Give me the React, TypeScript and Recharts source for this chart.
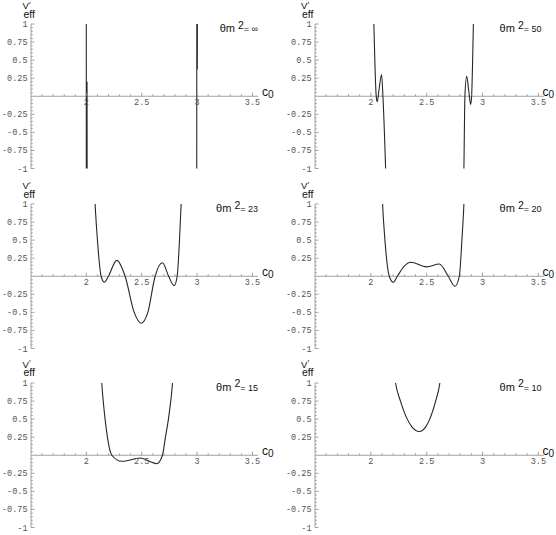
import React from "react";
import { LineChart, Line, XAxis, YAxis, ReferenceLine, ReferenceDot } from "recharts";

// c0 positions and V'eff values (values beyond ±1 run off the frame)
const C_INF = [1.999, 2.0, 2.006, 2.008, 2.5, 2.996, 2.998, 3.002, 3.004];
const V_INF = [3.0, -3.0, 0.2, -3.0, -8.0, -3.0, 3.0, 0.37, 3.0];

const C_50 = [2.01, 2.027, 2.048, 2.057, 2.072, 2.096, 2.108, 2.132, 2.15, 2.5, 2.815, 2.833, 2.842, 2.858, 2.876, 2.893, 2.902, 2.918, 2.935];
const V_50 = [2.2, 1.0, 0.0, -0.077, 0.08, 0.3, 0.0, -1.0, -2.0, -5.0, -2.0, -1.0, 0.0, 0.276, 0.08, -0.115, 0.0, 1.0, 2.2];

const C_23 = [2.06, 2.079, 2.1, 2.133, 2.163, 2.199, 2.275, 2.35, 2.432, 2.495, 2.555, 2.621, 2.687, 2.743, 2.793, 2.82, 2.841, 2.856, 2.875];
const V_23 = [1.7, 1.0, 0.5, 0.0, -0.084, 0.0, 0.22, 0.0, -0.5, -0.65, -0.5, 0.0, 0.186, 0.0, -0.13, 0.0, 0.5, 1.0, 1.8];

const C_20 = [2.085, 2.105, 2.126, 2.165, 2.2, 2.237, 2.297, 2.356, 2.499, 2.613, 2.693, 2.753, 2.792, 2.815, 2.833, 2.85];
const V_20 = [1.8, 1.0, 0.5, 0.0, -0.083, 0.0, 0.137, 0.194, 0.13, 0.17, 0.0, -0.139, 0.0, 0.5, 1.0, 1.8];

const C_15 = [2.12, 2.139, 2.169, 2.19, 2.23, 2.32, 2.486, 2.636, 2.687, 2.714, 2.741, 2.778, 2.795];
const V_15 = [1.5, 1.0, 0.5, 0.25, 0.0, -0.084, -0.038, -0.117, 0.0, 0.25, 0.5, 1.0, 1.4];

const C_10 = [2.2, 2.221, 2.265, 2.326, 2.364, 2.434, 2.494, 2.527, 2.58, 2.618, 2.64];
const V_10 = [1.25, 1.0, 0.75, 0.5, 0.4, 0.328, 0.4, 0.5, 0.75, 1.0, 1.3];

const X_LABELS = [2, 2.5, 3, 3.5];
const Y_LABELS = [-1, -0.75, -0.5, -0.25, 0.25, 0.5, 0.75, 1];

const r2 = (v: number) => Math.round(v * 100) / 100;
const X_TICKS = Array.from({ length: 20 }, (_, i) => r2(1.6 + i * 0.1));
const Y_TICKS = Array.from({ length: 41 }, (_, i) => r2(-1 + i * 0.05)).filter((v) => v !== 0);

const AXIS = "#8a8a8a";
const TICK_TEXT = "#555";
const MONO = "'Liberation Mono', 'DejaVu Sans Mono', monospace";
const SANS = "'Liberation Sans', Arial, sans-serif";

const PANELS = [
  { title: "∞", c: C_INF, v: V_INF, col: 0, row: 0, curve: "linear" },
  { title: "50", c: C_50, v: V_50, col: 1, row: 0, curve: "monotone" },
  { title: "23", c: C_23, v: V_23, col: 0, row: 1, curve: "monotone" },
  { title: "20", c: C_20, v: V_20, col: 1, row: 1, curve: "monotone" },
  { title: "15", c: C_15, v: V_15, col: 0, row: 2, curve: "monotone" },
  { title: "10", c: C_10, v: V_10, col: 1, row: 2, curve: "monotone" },
];

const COLS = [
  { axisX: 31, plotW: 227, vx: 22.5, cOff: 4 },
  { axisX: 314.5, plotW: 229, vx: 301, cOff: -1 },
];
const ROW_TOPS = [24, 204, 382.5];
const PLOT_H = 144.5;
const Y_AXIS_W = 31;
const PAD = 8;

// x-axis runs along v = 0, so its ticks are placed with the chart's own scales
function XTickMark({ cx, cy, v }: { cx: number; cy: number; v: number }) {
  const major = X_LABELS.includes(v);
  return (
    <g>
      <line x1={cx} x2={cx} y1={cy} y2={cy - (major ? 3.5 : 2)} stroke={AXIS} strokeWidth={0.8} />
      {major && (
        <text x={cx} y={cy + 8.5} textAnchor="middle" fontFamily={MONO} fontSize={8.5} fill={TICK_TEXT}>
          {String(v)}
        </text>
      )}
    </g>
  );
}

function YTick(props: any) {
  const { x, y, payload } = props;
  const v = r2(payload.value);
  const major = Y_LABELS.includes(v);
  return (
    <g>
      <line x1={x} x2={x + (major ? 3.5 : 1.8)} y1={y} y2={y} stroke={AXIS} strokeWidth={0.8} />
      {major && (
        <text x={x - 3.5} y={y + 3} textAnchor="end" fontFamily={MONO} fontSize={8.5} fill={TICK_TEXT}>
          {String(v)}
        </text>
      )}
    </g>
  );
}

function Panel({ p }: { p: (typeof PANELS)[number] }) {
  const col = COLS[p.col];
  const top = ROW_TOPS[p.row];
  const data = p.c.map((c, i) => ({ c, v: p.v[i] }));
  const width = Y_AXIS_W + col.plotW + PAD;
  const height = PLOT_H + PAD * 2;
  const axisEnd = col.axisX + col.plotW;
  const zeroY = top + PLOT_H / 2;

  return (
    <>
      <div style={{ position: "absolute", left: col.axisX - Y_AXIS_W, top: top - PAD }}>
        <LineChart width={width} height={height} data={data} margin={{ top: PAD, right: PAD, bottom: PAD, left: 0 }}>
          <XAxis dataKey="c" type="number" domain={[1.5, 3.55]} allowDataOverflow hide height={0} />
          <YAxis
            type="number"
            domain={[-1, 1]}
            allowDataOverflow
            ticks={Y_TICKS}
            interval={0}
            width={Y_AXIS_W}
            axisLine={{ stroke: AXIS, strokeWidth: 0.8 }}
            tickLine={false}
            tickSize={0}
            tickMargin={0}
            tick={<YTick />}
          />
          <ReferenceLine y={0} stroke={AXIS} strokeWidth={0.8} />
          {X_TICKS.map((t) => (
            <ReferenceDot
              key={t}
              x={t}
              y={0}
              r={1}
              ifOverflow="visible"
              shape={(props: any) => <XTickMark cx={props.cx} cy={props.cy} v={t} />}
            />
          ))}
          <Line
            dataKey="v"
            type={p.curve as any}
            stroke="#262626"
            strokeWidth={1.1}
            dot={false}
            activeDot={false}
            isAnimationActive={false}
          />
        </LineChart>
      </div>

      {/* V'eff axis label */}
      <div style={{ position: "absolute", left: col.vx, top: top - 23, fontFamily: SANS, color: "#111", lineHeight: 1 }}>
        <span style={{ position: "absolute", left: 0, top: 0, fontSize: 9.5 }}>V</span>
        <span style={{ position: "absolute", left: 6.5, top: -0.5, fontSize: 8.5 }}>′</span>
        <span style={{ position: "absolute", left: 1, top: 7.5, fontSize: 10.5 }}>eff</span>
      </div>

      {/* c0 axis label */}
      <div style={{ position: "absolute", left: axisEnd + col.cOff, top: zeroY - 10, fontFamily: SANS, color: "#111", lineHeight: 1 }}>
        <span style={{ position: "absolute", left: 0, top: 0, fontSize: 12 }}>c</span>
        <span style={{ position: "absolute", left: 6, top: 4, fontSize: 10 }}>0</span>
      </div>

      {/* θm² title */}
      <div
        style={{
          position: "absolute",
          left: axisEnd - 60,
          width: 60 - (p.col === 0 ? 0 : 2),
          top: top - 3,
          textAlign: "right",
          fontFamily: SANS,
          color: "#111",
          whiteSpace: "nowrap",
          lineHeight: "12px",
        }}
      >
        <span style={{ fontSize: 11 }}>θm </span>
        <span style={{ fontSize: 10.5, position: "relative", top: -3.5 }}>2</span>
        <span style={{ fontSize: 9 }}>= {p.title}</span>
      </div>
    </>
  );
}

export default function App() {
  return (
    <div style={{ position: "absolute", left: 0, top: 0, width: 556, height: 535, background: "#fff", overflow: "hidden" }}>
      {PANELS.map((p) => (
        <Panel key={p.title} p={p} />
      ))}
    </div>
  );
}
